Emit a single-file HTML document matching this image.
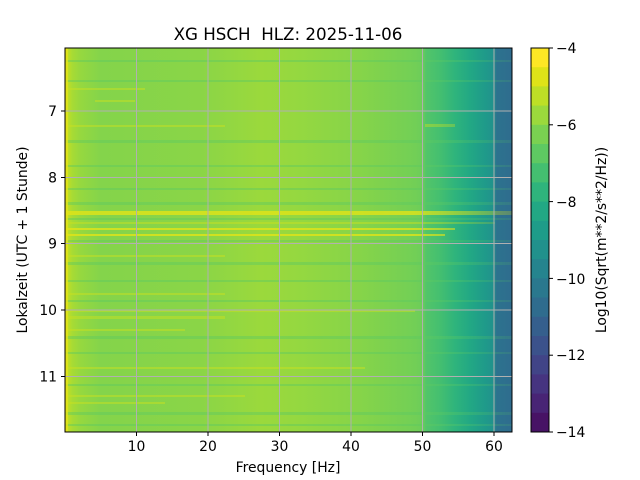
<!DOCTYPE html>
<html><head><meta charset="utf-8"><style>
html,body{margin:0;padding:0;background:#fff;}
svg{display:block;font-family:"DejaVu Sans","Liberation Sans",sans-serif;}
</style></head><body>
<svg width="640" height="480" viewBox="0 0 640 480" xmlns="http://www.w3.org/2000/svg">
<defs>
<linearGradient id="g" x1="65" x2="512" y1="0" y2="0" gradientUnits="userSpaceOnUse">
<stop offset="0" stop-color="#e8e51a"/>
<stop offset="0.005" stop-color="#c2df23"/>
<stop offset="0.016" stop-color="#a8db34"/>
<stop offset="0.034" stop-color="#96d83f"/>
<stop offset="0.08" stop-color="#84d44b"/>
<stop offset="0.3" stop-color="#8ad547"/>
<stop offset="0.44" stop-color="#9bd93c"/>
<stop offset="0.52" stop-color="#95d840"/>
<stop offset="0.66" stop-color="#86d449"/>
<stop offset="0.783" stop-color="#72cf56"/>
<stop offset="0.8" stop-color="#6ccd5a"/>
<stop offset="0.808" stop-color="#52c569"/>
<stop offset="0.839" stop-color="#44bf70"/>
<stop offset="0.872" stop-color="#2fb47c"/>
<stop offset="0.906" stop-color="#22a884"/>
<stop offset="0.94" stop-color="#1f9a8a"/>
<stop offset="0.96" stop-color="#21918c"/>
<stop offset="0.965" stop-color="#2c738e"/>
<stop offset="1" stop-color="#2f6c8e"/>
</linearGradient>
<linearGradient id="fade" x1="65" x2="512" y1="0" y2="0" gradientUnits="userSpaceOnUse">
<stop offset="0" stop-color="#fff" stop-opacity="1"/>
<stop offset="0.78" stop-color="#fff" stop-opacity="1"/>
<stop offset="1" stop-color="#fff" stop-opacity="0.3"/>
</linearGradient>
<mask id="m"><rect x="65" y="48" width="447" height="384" fill="url(#fade)"/></mask>
</defs>
<rect x="65" y="48" width="447" height="384" fill="url(#g)"/>
<g mask="url(#m)">
<g fill="#e2e418" opacity="0.8">
<rect x="65" y="211" width="447" height="4"/>
<rect x="65" y="228" width="390" height="2"/>
<rect x="65" y="234" width="380" height="2"/>
</g>
<g fill="#c8e020" opacity="0.5">
<rect x="65" y="222" width="430" height="2"/>
<rect x="65" y="255" width="160" height="2"/>
<rect x="65" y="316" width="160" height="3"/>
<rect x="65" y="329" width="120" height="2"/>
<rect x="65" y="367" width="300" height="2"/>
<rect x="65" y="395" width="180" height="2"/>
<rect x="65" y="402" width="100" height="2"/>
<rect x="425" y="124" width="30" height="3"/>
<rect x="65" y="88" width="80" height="2"/>
<rect x="95" y="100" width="40" height="2"/>
<rect x="65" y="125" width="160" height="2"/>
<rect x="65" y="310" width="350" height="2"/>
<rect x="65" y="293" width="160" height="2"/>
</g>
<g fill="#5ec962" opacity="0.45">
<rect x="65" y="60" width="447" height="2"/>
<rect x="65" y="80" width="447" height="2"/>
<rect x="65" y="140" width="447" height="3"/>
<rect x="65" y="165" width="447" height="2"/>
<rect x="65" y="188" width="447" height="2"/>
<rect x="65" y="202" width="447" height="3"/>
<rect x="65" y="218" width="447" height="2"/>
<rect x="65" y="240" width="447" height="2"/>
<rect x="65" y="262" width="447" height="3"/>
<rect x="65" y="280" width="447" height="2"/>
<rect x="65" y="300" width="447" height="2"/>
<rect x="65" y="336" width="447" height="3"/>
<rect x="65" y="352" width="447" height="2"/>
<rect x="65" y="384" width="447" height="2"/>
<rect x="65" y="412" width="447" height="3"/>
<rect x="65" y="424" width="447" height="2"/>
</g>
</g>
<rect x="65" y="48" width="3" height="384" fill="#e2e418" opacity="0.8"/>
<g stroke="#b0b0b0" stroke-width="1">
<line x1="136.5" y1="48" x2="136.5" y2="432"/>
<line x1="208" y1="48" x2="208" y2="432"/>
<line x1="279.5" y1="48" x2="279.5" y2="432"/>
<line x1="351" y1="48" x2="351" y2="432"/>
<line x1="422.5" y1="48" x2="422.5" y2="432"/>
<line x1="494" y1="48" x2="494" y2="432"/>
<line x1="65" y1="111" x2="512" y2="111"/>
<line x1="65" y1="177.5" x2="512" y2="177.5"/>
<line x1="65" y1="243.5" x2="512" y2="243.5"/>
<line x1="65" y1="310" x2="512" y2="310"/>
<line x1="65" y1="376.5" x2="512" y2="376.5"/>
</g>
<rect x="65" y="48" width="447" height="384" fill="none" stroke="#000" stroke-width="1"/>
<g stroke="#000">
<line x1="136.5" y1="432" x2="136.5" y2="436"/>
<line x1="208" y1="432" x2="208" y2="436"/>
<line x1="279.5" y1="432" x2="279.5" y2="436"/>
<line x1="351" y1="432" x2="351" y2="436"/>
<line x1="422.5" y1="432" x2="422.5" y2="436"/>
<line x1="494" y1="432" x2="494" y2="436"/>
<line x1="61" y1="111" x2="65" y2="111"/>
<line x1="61" y1="177.5" x2="65" y2="177.5"/>
<line x1="61" y1="243.5" x2="65" y2="243.5"/>
<line x1="61" y1="310" x2="65" y2="310"/>
<line x1="61" y1="376.5" x2="65" y2="376.5"/>
</g>
<g font-size="13.9" fill="#000" text-anchor="middle">
<text x="136.5" y="451">10</text><text x="208" y="451">20</text><text x="279.5" y="451">30</text>
<text x="351" y="451">40</text><text x="422.5" y="451">50</text><text x="494" y="451">60</text>
<text x="288" y="472">Frequency [Hz]</text>
</g>
<g font-size="13.9" fill="#000" text-anchor="end">
<text x="57" y="116">7</text><text x="57" y="182.5">8</text><text x="57" y="248.5">9</text>
<text x="57" y="315">10</text><text x="57" y="381.5">11</text>
</g>
<text x="27" y="240" font-size="13.9" text-anchor="middle" transform="rotate(-90 27 240)">Lokalzeit (UTC + 1 Stunde)</text>
<text x="288" y="40" font-size="16.7" text-anchor="middle" style="white-space:pre">XG HSCH&#160; HLZ: 2025-11-06</text>
<g>
<rect x="531" y="48.0" width="18" height="19.7" fill="#fde725"/>
<rect x="531" y="67.2" width="18" height="19.7" fill="#dfe318"/>
<rect x="531" y="86.4" width="18" height="19.7" fill="#bddf26"/>
<rect x="531" y="105.6" width="18" height="19.7" fill="#9bd93c"/>
<rect x="531" y="124.8" width="18" height="19.7" fill="#7ad151"/>
<rect x="531" y="144.0" width="18" height="19.7" fill="#5ec962"/>
<rect x="531" y="163.2" width="18" height="19.7" fill="#44bf70"/>
<rect x="531" y="182.4" width="18" height="19.7" fill="#2fb47c"/>
<rect x="531" y="201.6" width="18" height="19.7" fill="#22a884"/>
<rect x="531" y="220.8" width="18" height="19.7" fill="#1e9c89"/>
<rect x="531" y="240.0" width="18" height="19.7" fill="#21918c"/>
<rect x="531" y="259.2" width="18" height="19.7" fill="#25848e"/>
<rect x="531" y="278.4" width="18" height="19.7" fill="#2a788e"/>
<rect x="531" y="297.6" width="18" height="19.7" fill="#2f6c8e"/>
<rect x="531" y="316.8" width="18" height="19.7" fill="#355f8d"/>
<rect x="531" y="336.0" width="18" height="19.7" fill="#3b528b"/>
<rect x="531" y="355.2" width="18" height="19.7" fill="#414487"/>
<rect x="531" y="374.4" width="18" height="19.7" fill="#463480"/>
<rect x="531" y="393.6" width="18" height="19.7" fill="#482475"/>
<rect x="531" y="412.8" width="18" height="19.2" fill="#471365"/>
</g>
<rect x="531" y="48" width="18" height="384" fill="none" stroke="#000"/>
<g stroke="#000">
<line x1="549" y1="48" x2="553" y2="48"/><line x1="549" y1="124.8" x2="553" y2="124.8"/>
<line x1="549" y1="201.6" x2="553" y2="201.6"/><line x1="549" y1="278.4" x2="553" y2="278.4"/>
<line x1="549" y1="355.2" x2="553" y2="355.2"/><line x1="549" y1="432" x2="553" y2="432"/>
</g>
<g font-size="13.9" fill="#000">
<text x="556" y="53">−4</text><text x="556" y="130">−6</text><text x="556" y="207">−8</text>
<text x="556" y="284">−10</text><text x="556" y="360">−12</text><text x="556" y="437">−14</text>
</g>
<text x="606" y="240" font-size="13.9" text-anchor="middle" transform="rotate(-90 606 240)">Log10(Sqrt(m**2/s**2/Hz))</text>
</svg>
</body></html>
